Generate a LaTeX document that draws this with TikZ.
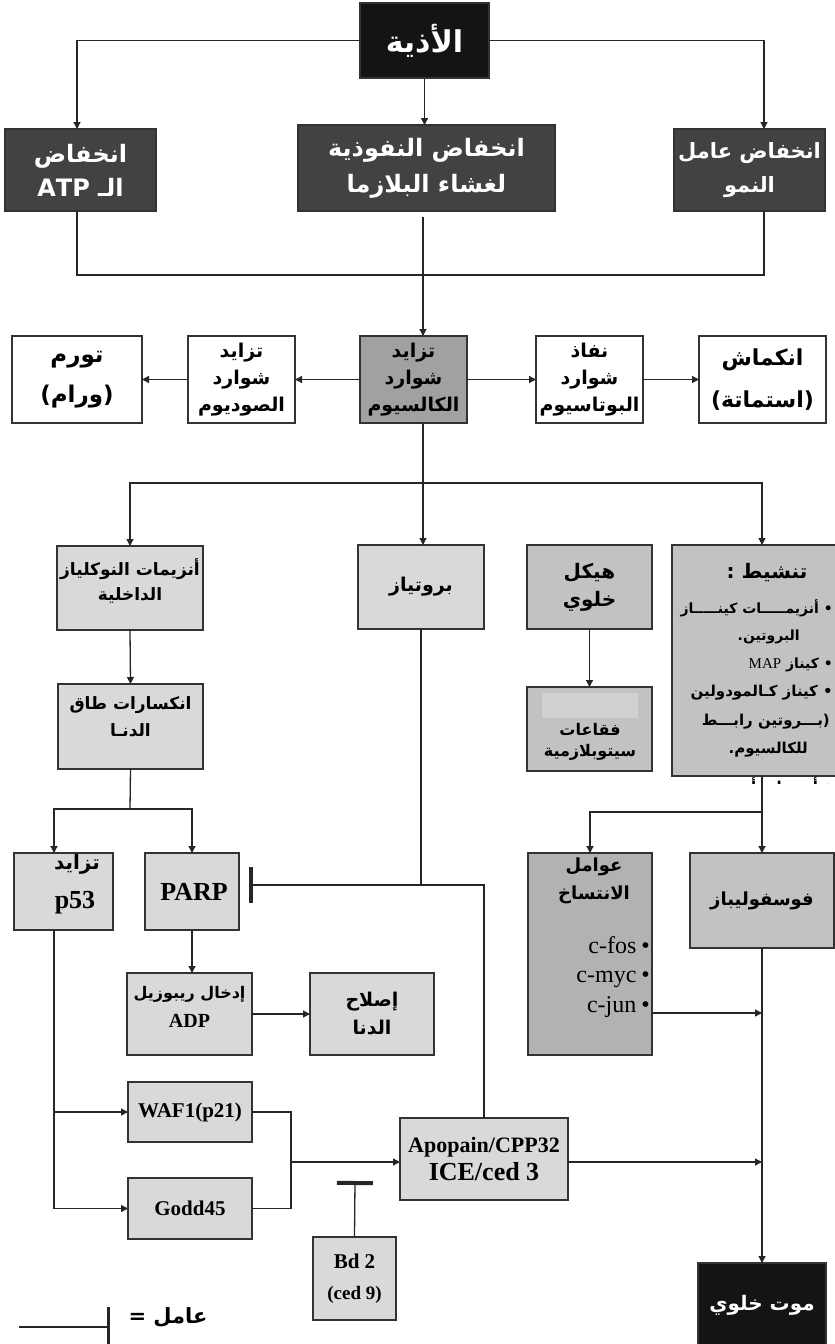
\documentclass[tikz,border=0pt]{standalone}
\usepackage{fontspec}
\setmainfont{Liberation Serif}
\newfontfamily\arabicfont[Script=Arabic]{DejaVu Sans}
\TeXXeTstate=1
\usetikzlibrary{arrows.meta}
\newcommand{\AR}[1]{{\arabicfont\bfseries\beginR #1\endR}}
\newcommand{\fs}[2]{\fontsize{#1}{#2}\selectfont}
\begin{document}
\begin{tikzpicture}[x=1pt,y=-1pt,
  bb/.style n args={4}{minimum width={#3-#1},minimum height={#4-#2},at={({(#1+#3)/2},{(#2+#4)/2})}},
  bx/.style={draw=black!80,line width=1.6pt,inner sep=0pt,outer sep=0pt,align=center},
  blackbx/.style={bx,fill=black!92,text=white},
  darkbx/.style={bx,fill=black!74,text=white},
  calbx/.style={bx,fill=black!37},
  whitebx/.style={bx,fill=white},
  lightbx/.style={bx,fill=black!15},
  midbx/.style={bx,fill=black!24},
  tfbx/.style={bx,fill=black!30},
  con/.style={draw=black!85,line width=1.3pt},
  arr/.style={con,-{Triangle[length=7pt,width=7pt]}},
  inh/.style={con,-{Bar[width=36pt,line width=4pt]}},
  lab/.style={inner sep=0pt,align=center}
]
\useasboundingbox (0,0) rectangle (835,1344);
\fill[white] (0,0) rectangle (835,1344);

% ---------- top ----------
\node[blackbx,bb={360}{3}{489}{78},font=\fs{30}{32}] (adhya) {\AR{الأذية}};
\node[darkbx,bb={5}{129}{156}{211},font=\fs{24}{34}] (atp) {\AR{انخفاض}\\\AR{الـ ATP}};
\node[darkbx,bb={298}{125}{555}{211},font=\fs{24}{36}] (perm) {\AR{انخفاض النفوذية}\\\AR{لغشاء البلازما}};
\node[darkbx,bb={674}{129}{825}{211},font=\fs{21}{34}] (growth) {\AR{انخفاض عامل}\\\AR{النمو}};

\coordinate (colL) at (77,0);
\coordinate (colR) at (764,0);
\coordinate (topj) at (423,275);
\coordinate (permgap) at (423,217);

\draw[arr] (adhya.west) -| (colL |- atp.north);
\draw[arr] (adhya.east) -| (colR |- growth.north);
\draw[arr] (adhya.south) -- (adhya.south |- perm.north);
\draw[con] (colL |- atp.south) |- (topj) -| (colR |- growth.south);

% ---------- row 2 ----------
\node[calbx,bb={360}{336}{467}{423},font=\fs{19}{27}] (calc) {\AR{تزايد}\\\AR{شوارد}\\\AR{الكالسيوم}};
\node[whitebx,bb={188}{336}{295}{423},font=\fs{19}{27}] (sodium) {\AR{تزايد}\\\AR{شوارد}\\\AR{الصوديوم}};
\node[whitebx,bb={12}{336}{142}{423},font=\fs{23}{40}] (swell) {\AR{تورم}\\\AR{(ورام)}};
\node[whitebx,bb={536}{336}{643}{423},font=\fs{19}{27}] (potas) {\AR{نفاذ}\\\AR{شوارد}\\\AR{البوتاسيوم}};
\node[whitebx,bb={699}{336}{826}{423},font=\fs{22}{42}] (shrink) {\AR{انكماش}\\\AR{(استماتة)}};

\draw[arr] (permgap) -- (permgap |- calc.north);
\draw[arr] (calc.west) -- (sodium.east);
\draw[arr] (sodium.west) -- (swell.east);
\draw[arr] (calc.east) -- (potas.west);
\draw[arr] (potas.east) -- (shrink.west);

% ---------- row 3 ----------
\node[lightbx,bb={57}{546}{203}{630},font=\fs{17}{25}] (nucl) {\AR{أنزيمات النوكلياز}\\\AR{الداخلية}\\[-9pt]\mbox{}};
\node[lightbx,bb={58}{684}{203}{769},font=\fs{17}{27}] (dna) {\AR{انكسارات طاق}\\\AR{الدنـا}\\[-7pt]\mbox{}};
\node[lightbx,bb={358}{545}{484}{629},font=\fs{19}{22}] (prot) {\AR{بروتياز}};
\node[midbx,bb={527}{545}{652}{629},font=\fs{20}{28}] (cyto) {\AR{هيكل}\\\AR{خلوي}};
\node[midbx,bb={527}{687}{652}{771}] (bubb) {};
\fill[black!18] (542,693) rectangle (638,718);
\node[lab,font=\fs{16}{21}] (bubbt) at (590,742) {\AR{فقاعات}\\\AR{سيتوبلازمية}};
\node[midbx,bb={672}{545}{852}{776}] (act) {};
\node[lab,font=\fs{20}{22}] (actt) at (767,573) {\AR{تنشيط :}};
\node[lab,anchor=east,font=\fs{14}{18}] (act1) at (833,608) {\AR{• أنزيمـــــات كينـــــاز}};
\node[lab,anchor=east,font=\fs{14}{18}] (act2) at (800,637) {\AR{البروتين.}};
\node[lab,anchor=east,font=\fs{14}{18}] (act3) at (833,665) {\AR{• كيناز {\rmfamily\mdseries\fs{15}{18}MAP}}};
\node[lab,anchor=east,font=\fs{15}{18}] (act4) at (833,693) {\AR{• كيناز كـالمودولين}};
\node[lab,anchor=east,font=\fs{15}{18}] (act5) at (830,722) {\AR{(بـــروتين رابـــط}};
\node[lab,anchor=east,font=\fs{15}{18}] (act6) at (808,750) {\AR{للكالسيوم.}};
\begin{scope}
\clip (672,777) rectangle (835,783);
\node[lab,anchor=east,font=\fs{15}{18}] (act7) at (833,787) {\AR{• أنزيمات أخرى}};
\end{scope}

\coordinate (hub) at (423,483);
\draw[con] (calc.south -| hub) -- (hub);
\draw[arr] (hub) -| (nucl.north);
\draw[arr] (hub) -- (hub |- prot.north);
\draw[arr] (hub) -| (act.north);
\draw[arr] (nucl.south) -- (dna.north);
\draw[arr] (cyto.south) -- (bubb.north);

% ---------- row 4 ----------
\node[lightbx,bb={14}{853}{113}{930}] (p53) {};
\node[lab,font=\fs{20}{22}] (p53a) at (77,864) {\AR{تزايد}};
\node[lab,anchor=base,font=\bfseries\fs{26}{28}] (p53b) at (75,908) {p53};
\node[lightbx,bb={145}{853}{239}{930},font=\bfseries\fs{26}{28}] (parp) {\hspace{4pt}PARP};
\node[lightbx,bb={127}{973}{252}{1055},font=\fs{16}{29}] (adp) {\AR{إدخال ريبوزيل}\\{\bfseries\fs{20}{22}ADP}\\[-15pt]\mbox{}};
\node[lightbx,bb={310}{973}{434}{1055},font=\fs{19}{28}] (repair) {\AR{إصلاح}\\\AR{الدنا}};
\node[tfbx,bb={528}{853}{652}{1055}] (tf) {};
\node[lab,font=\fs{18}{28}] (tft) at (594,881) {\AR{عوامل}\\\AR{الانتساخ}};
\node[lab,anchor=base east,font=\fs{24}{26}] (tf1) at (650,953) {c-fos\hspace{5pt}•};
\node[lab,anchor=base east,font=\fs{24}{26}] (tf2) at (650,982) {c-myc\hspace{5pt}•};
\node[lab,anchor=base east,font=\fs{24}{26}] (tf3) at (650,1012) {c-jun\hspace{5pt}•};
\node[midbx,bb={690}{853}{834}{948},font=\fs{18}{22}] (ph) {\AR{فوسفوليباز}};

\coordinate (dsplit) at (130,809);
\coordinate (p53col) at (54,0);
\draw[con] (dna.south) -- (dsplit);
\draw[arr] (dsplit) -| (p53col |- p53.north);
\draw[arr] (dsplit) -| (parp.north);
\draw[arr] (parp.south) -- (parp.south |- adp.north);
\draw[arr] (adp.east) -- (repair.west);

\coordinate (actj) at (762,812);
\draw[arr] (act.south) -- (act.south |- ph.north);
\draw[arr] (actj) -| (tf.north);

% ---------- row 5 ----------
\node[lightbx,bb={128}{1082}{252}{1142},font=\bfseries\fs{21}{24}] (waf) {WAF1(p21)};
\node[lightbx,bb={128}{1178}{252}{1239},font=\bfseries\fs{21}{24}] (godd) {Godd45};
\node[lightbx,bb={400}{1118}{568}{1200},font=\bfseries\fs{22}{28}] (apo) {Apopain/CPP32\\{\fs{26}{28}ICE/ced 3}};
\node[lightbx,bb={313}{1237}{396}{1320},font=\bfseries\fs{21}{31}] (bd2) {Bd 2\\{\fs{19}{22}(ced 9)}};
\node[blackbx,bb={698}{1263}{826}{1364}] (death) {};
\node[lab,text=white,font=\fs{20}{22}] (deatht) at (762,1305) {\AR{موت خلوي}};

\coordinate (parpbar) at (249,885);
\coordinate (bdbar) at (355,1181);
\coordinate (mj) at (291,1162);
\coordinate (tfout) at (652,1013);

\draw[inh] (apo.north) |- (parpbar);
\draw[con] (prot.south) -- (prot.south |- parpbar);
\draw[arr] (p53col |- p53.south) |- (waf.west);
\draw[arr] (p53col |- p53.south) |- (godd.west);
\draw[con] (waf.east) -| (mj);
\draw[con] (godd.east) -| (mj);
\draw[arr] (mj) -- (apo.west |- mj);
\draw[inh] (bd2.north) -- (bdbar);
\draw[arr] (apo.east |- mj) -- (ph.south |- mj);
\draw[arr] (tfout) -- (ph.south |- tfout);
\draw[arr] (ph.south) -- (death.north);

% ---------- legend ----------
\coordinate (lgA) at (19,1327);
\coordinate (lgB) at (110,1327);
\draw[con,-{Bar[width=40pt,line width=3.5pt]}] (lgA) -- (lgB);
\node[lab,font=\fs{21}{24}] (lgt1) at (168,1317) {\AR{عامل =}};
\node[lab,font=\fs{21}{24}] (lgt2) at (160,1354) {\AR{مثبط}};
\end{tikzpicture}
\end{document}
